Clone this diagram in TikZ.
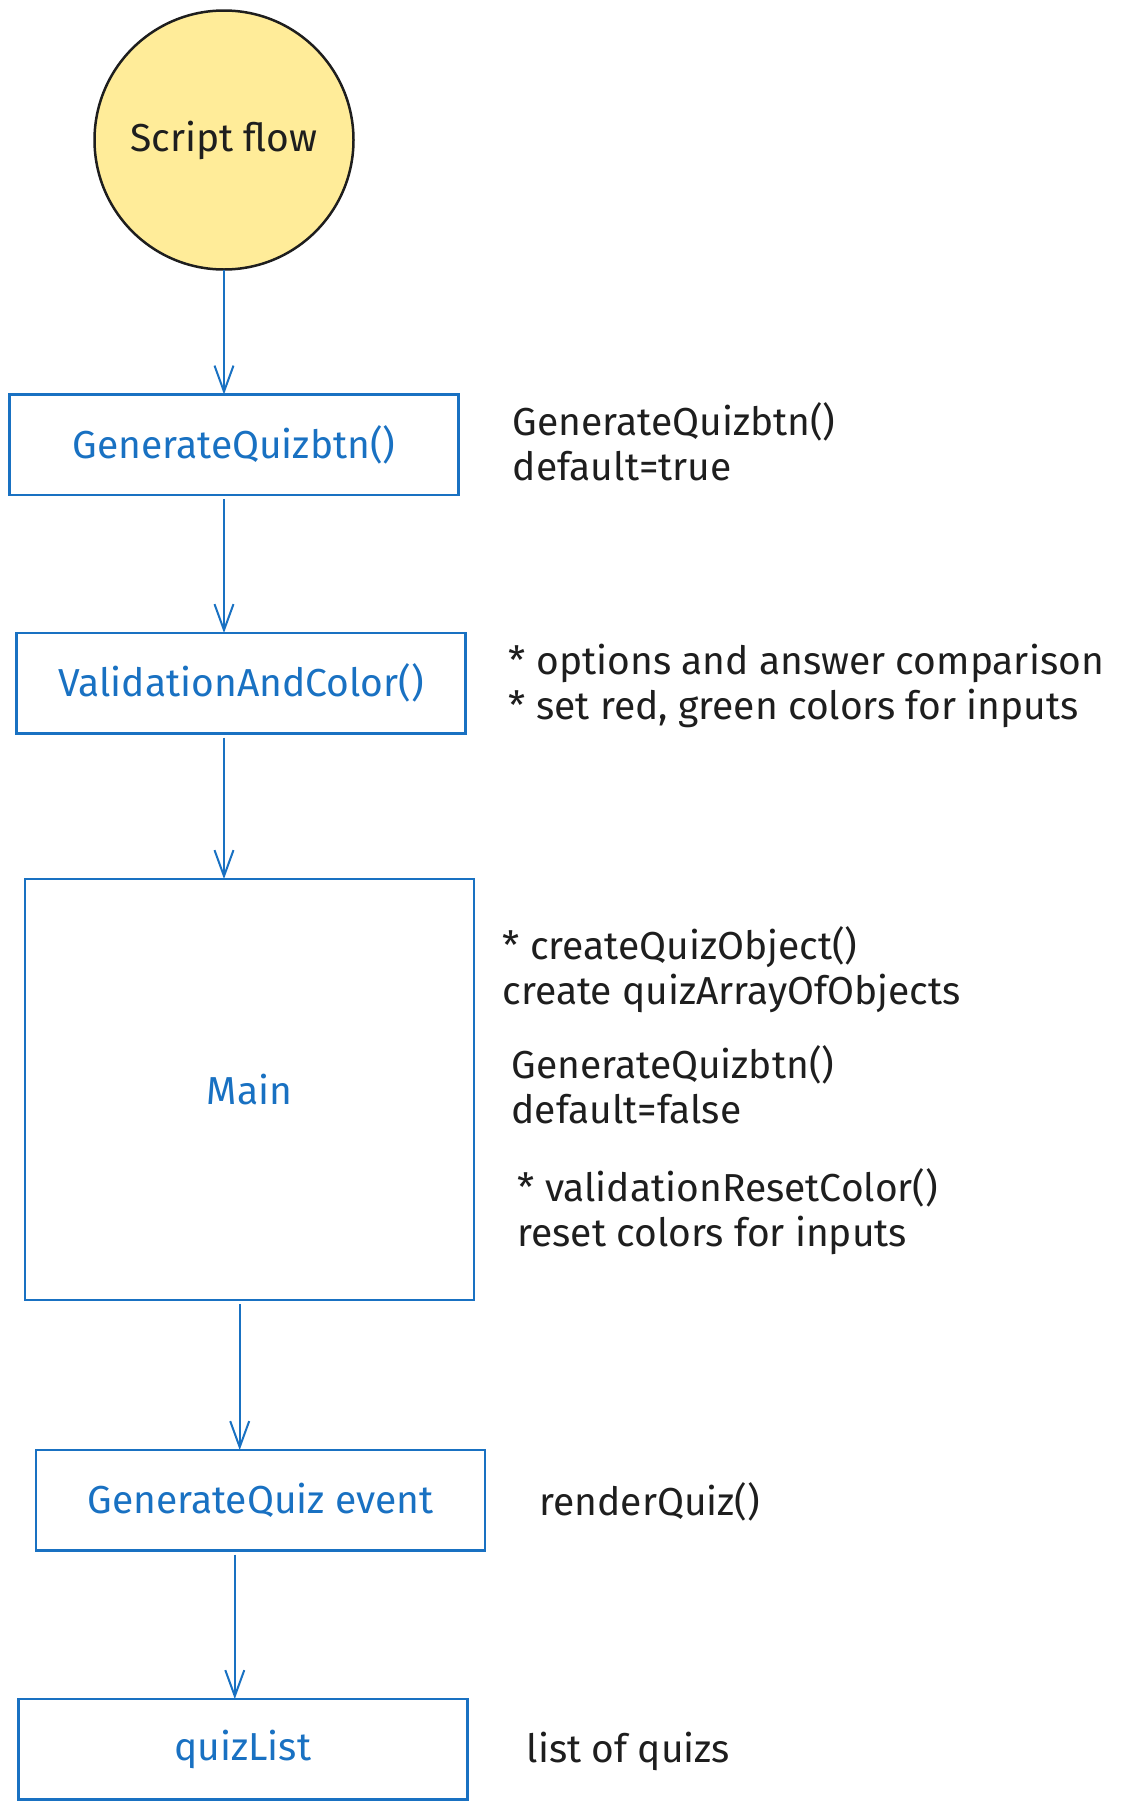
\documentclass[tikz,border=0pt]{standalone}
\usepackage{fontspec}
\setmainfont{Fira Sans}
\usepackage{xcolor}
\usepackage{tikz}
\usetikzlibrary{shapes.geometric, arrows.meta, positioning}

\definecolor{qblue}{HTML}{1971C2}
\definecolor{qyellow}{HTML}{FFEC99}
\definecolor{qink}{HTML}{1E1E1E}

\begin{document}
\begin{tikzpicture}[
    block/.style={rectangle, draw=qblue, line width=1.25pt, outer sep=0pt, text=qblue, minimum width=224.5pt, minimum height=50.25pt, font=\fontsize{19.5}{22.5}\selectfont},
    start/.style={circle, draw=qink, fill=qyellow, line width=1.25pt, outer sep=0pt, text=qink, minimum size=129.5pt, font=\fontsize{19.5}{22.5}\selectfont},
    note/.style={anchor=west, align=left, text=qink, inner sep=0pt, font=\fontsize{19.5}{22.5}\selectfont},
    arrow/.style={-{Straight Barb[length=13pt, width=9.5pt]}, draw=qblue, line width=1pt, shorten <=2pt}
]
    \useasboundingbox (0pt,0pt) rectangle (565.5pt,-905pt);

    % start
    \node[start] (flow) at (112pt,-70pt) {Script flow};

    % flow boxes
    \node[block, below=62.5pt of flow, xshift=5pt] (quizbtn) {GenerateQuizbtn()};
    \node[block, below=69pt of quizbtn, xshift=3.5pt] (validation) {ValidationAndColor()};
    \node[block, below=72.75pt of validation, xshift=4.35pt, minimum height=210.5pt] (main) {Main};
    \node[block, below=75pt of main, xshift=5.4pt] (quizevent) {GenerateQuiz event};
    \node[block, below=74.25pt of quizevent, xshift=-8.85pt] (quizlist) {quizList};

    % notes
    \node[note, right=27pt of quizbtn, yshift=1.5pt] (quizbtn_note) {GenerateQuizbtn()\\default=true};
    \node[note, right=21.5pt of validation, yshift=-1.5pt] (validation_note) {* options and answer comparison\\* set red, green colors for inputs};
    \node[note, right=14pt of main, yshift=60pt] (main_note_a) {* createQuizObject()\\create quizArrayOfObjects};
    \node[note, right=18.5pt of main, yshift=2.25pt] (main_note_b) {GenerateQuizbtn()\\default=false};
    \node[note, right=21.5pt of main, yshift=-61pt] (main_note_c) {* validationResetColor()\\reset colors for inputs};
    \node[note, right=27pt of quizevent, yshift=-1pt] (quizevent_note) {renderQuiz()};
    \node[note, right=29.5pt of quizlist, yshift=-1pt] (quizlist_note) {list of quizs};

    % arrows
    \draw[arrow, shorten <=0pt] (flow.south) -- (flow.south |- quizbtn.north);
    \draw[arrow] (quizbtn.south -| flow.south) -- (validation.north -| flow.south);
    \draw[arrow] (validation.south -| flow.south) -- (main.north -| flow.south);
    \draw[arrow] ([xshift=-5pt]main.south) -- ([xshift=-5pt]main.south |- quizevent.north);
    \draw[arrow] ([xshift=-4pt]quizevent.south -| quizlist.north) -- ([xshift=-4pt]quizlist.north);
\end{tikzpicture}
\end{document}
